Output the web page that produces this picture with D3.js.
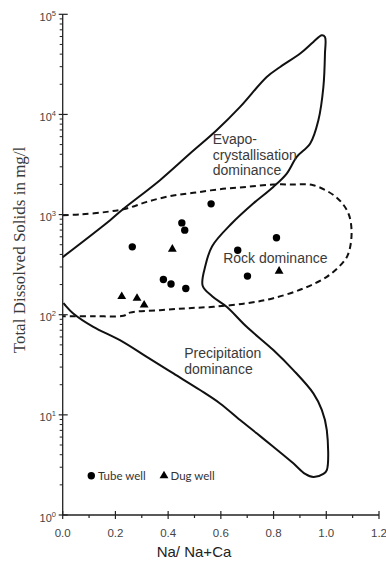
<!DOCTYPE html>
<html>
<head>
<meta charset="utf-8">
<script src="https://cdn.jsdelivr.net/npm/d3@7"></script>
<style>
  html, body { margin: 0; padding: 0; background: #fff; }
  svg { display: block; }
</style>
</head>
<body>
<svg id="chart" width="386" height="562"></svg>
<script>
// Gibbs plot: Na/(Na+Ca) against total dissolved solids (log scale)

// Samples
const tubeWellRatio = [0.563, 0.452, 0.463, 0.264, 0.382, 0.411, 0.467, 0.811, 0.664, 0.701];
const tubeWellTDS   = [1280, 826, 699, 476, 225, 203, 183, 586, 441, 243];
const dugWellRatio  = [0.416, 0.224, 0.282, 0.309, 0.821];
const dugWellTDS    = [451, 152, 146, 125, 272];

// Axis ticks
const ratioTicks = [0, 0.2, 0.4, 0.6, 0.8, 1.0, 1.2];
const ratioMinorTicks = [0.1, 0.3, 0.5, 0.7, 0.9, 1.1];
const tdsExponents = [0, 1, 2, 3, 4, 5];

// Outer Gibbs boundary (evaporation / precipitation envelope), [ratio, TDS]
const gibbsBoundary = [
  [0.000, 376], [0.180, 879], [0.224, 1106], [0.369, 2205], [0.483, 4070],
  [0.584, 6950], [0.673, 11890], [0.774, 23680], [0.825, 29800], [0.901, 40560],
  [0.951, 52970], [0.983, 61700], [0.995, 59300], [0.995, 40560], [0.989, 18800],
  [0.970, 8750], [0.939, 5130], [0.888, 3770], [0.850, 2570], [0.799, 1890],
  [0.723, 1291], [0.641, 815], [0.567, 484], [0.542, 313], [0.531, 195],
  [0.567, 153], [0.622, 120], [0.698, 75.7], [0.799, 44.4], [0.875, 28.0],
  [0.951, 16.4], [0.983, 11.2], [1.002, 7.05], [1.002, 2.81], [0.989, 2.57],
  [0.951, 2.39], [0.920, 2.57], [0.875, 3.28], [0.799, 4.80], [0.736, 6.54],
  [0.673, 8.87], [0.597, 13.0], [0.521, 17.7], [0.420, 25.9], [0.319, 38.0],
  [0.217, 55.8], [0.116, 75.7], [0.040, 103], [0.009, 125], [0.003, 131]
];

// Rock dominance field (dashed), [ratio, TDS]
const rockField = [
  [0.000, 986], [0.066, 1002], [0.167, 1064], [0.243, 1151], [0.319, 1340],
  [0.407, 1528], [0.496, 1648], [0.597, 1794], [0.698, 1890], [0.799, 1996],
  [0.875, 1996], [0.951, 1964], [1.040, 1474], [1.084, 1025], [1.096, 648],
  [1.084, 409], [1.065, 337], [1.002, 239], [0.913, 183], [0.799, 146],
  [0.698, 130], [0.572, 120], [0.471, 116], [0.369, 111], [0.255, 105],
  [0.230, 97.5], [0.116, 96.8], [0.000, 96.8]
];

const svg = d3.select("#chart");

const x = d3.scaleLinear().domain([0, 1.2]).range([62.7, 379]);
const y = d3.scaleLog().domain([1, 1e5]).range([515, 14.3]);

const axisColor = "#222";
const labelColor = "#3a3a3a";

// ---- curves
const line = d3.line()
  .x(d => x(d[0]))
  .y(d => y(d[1]))
  .curve(d3.curveCatmullRom.alpha(0.5));

svg.append("path")
  .attr("d", line(gibbsBoundary))
  .attr("fill", "none")
  .attr("stroke", "#111")
  .attr("stroke-width", 2)
  .attr("stroke-linejoin", "round");

svg.append("path")
  .attr("d", line(rockField))
  .attr("fill", "none")
  .attr("stroke", "#111")
  .attr("stroke-width", 2)
  .attr("stroke-dasharray", "6,4");

// ---- axes
const gx = svg.append("g");
gx.append("line")
  .attr("x1", x(0)).attr("x2", x(1.2))
  .attr("y1", y(1)).attr("y2", y(1))
  .attr("stroke", axisColor).attr("stroke-width", 1.3);
gx.selectAll(".xmaj").data(ratioTicks).join("line")
  .attr("x1", d => x(d)).attr("x2", d => x(d))
  .attr("y1", y(1) - 4).attr("y2", y(1) + 4)
  .attr("stroke", axisColor).attr("stroke-width", 1.2);
gx.selectAll(".xmin").data(ratioMinorTicks).join("line")
  .attr("x1", d => x(d)).attr("x2", d => x(d))
  .attr("y1", y(1)).attr("y2", y(1) + 3)
  .attr("stroke", axisColor).attr("stroke-width", 1.2);
gx.selectAll(".xlab").data(ratioTicks).join("text")
  .attr("x", d => x(d)).attr("y", 537)
  .attr("text-anchor", "middle")
  .attr("font-family", "Liberation Sans, Arial, sans-serif")
  .attr("font-size", 11.5)
  .attr("fill", "#444")
  .text(d => d.toFixed(1));

const gy = svg.append("g");
gy.append("line")
  .attr("x1", x(0)).attr("x2", x(0))
  .attr("y1", y(1e5)).attr("y2", y(1))
  .attr("stroke", axisColor).attr("stroke-width", 1.3);
gy.selectAll(".ymaj").data(tdsExponents).join("line")
  .attr("x1", x(0) - 4).attr("x2", x(0) + 5)
  .attr("y1", d => y(Math.pow(10, d))).attr("y2", d => y(Math.pow(10, d)))
  .attr("stroke", axisColor).attr("stroke-width", 1.2);
const minorValues = [];
tdsExponents.slice(0, -1).forEach(e => {
  for (let m = 2; m <= 9; m++) minorValues.push(m * Math.pow(10, e));
});
gy.selectAll(".ymin").data(minorValues).join("line")
  .attr("x1", x(0) - 3).attr("x2", x(0))
  .attr("y1", d => y(d)).attr("y2", d => y(d))
  .attr("stroke", axisColor).attr("stroke-width", 1);
const ylab = gy.selectAll(".ylab").data(tdsExponents).join("text")
  .attr("x", 56)
  .attr("y", d => y(Math.pow(10, d)) + 6.5)
  .attr("text-anchor", "end")
  .attr("font-family", "Liberation Sans, Arial, sans-serif")
  .attr("fill", "#444");
ylab.append("tspan").attr("font-size", 11).text("10");
ylab.append("tspan").attr("font-size", 7.5).attr("dy", -5).text(d => d);

// ---- axis titles
svg.append("text")
  .attr("x", 194).attr("y", 556.5)
  .attr("text-anchor", "middle")
  .attr("font-family", "Liberation Sans, Arial, sans-serif")
  .attr("font-size", 15)
  .attr("fill", "#222")
  .text("Na/ Na+Ca");

svg.append("text")
  .attr("transform", "translate(25,250) rotate(-90)")
  .attr("text-anchor", "middle")
  .attr("font-family", "Liberation Serif, 'Times New Roman', serif")
  .attr("font-size", 17)
  .attr("fill", "#3a3a3a")
  .text("Total Dissolved Solids in mg/l");

// ---- field labels
const fieldLabels = [
  { lines: ["Evapo-", "crystallisation", "dominance"], ratio: 0.569, tds: 5040 },
  { lines: ["Rock dominance"], ratio: 0.609, tds: 325 },
  { lines: ["Precipitation", "dominance"], ratio: 0.461, tds: 36.6 }
];
fieldLabels.forEach(f => {
  const t = svg.append("text")
    .attr("font-family", "Liberation Sans, Arial, sans-serif")
    .attr("font-size", 14)
    .attr("fill", labelColor);
  f.lines.forEach((s, i) => {
    t.append("tspan")
      .attr("x", x(f.ratio))
      .attr("y", y(f.tds) + i * 15.6)
      .text(s);
  });
});

// ---- samples
svg.append("g").selectAll("circle").data(tubeWellRatio).join("circle")
  .attr("cx", (d, i) => x(d))
  .attr("cy", (d, i) => y(tubeWellTDS[i]))
  .attr("r", 3.7)
  .attr("fill", "#000");

const tri = d3.symbol().type(d3.symbolTriangle).size(34);
svg.append("g").selectAll("path").data(dugWellRatio).join("path")
  .attr("d", tri)
  .attr("transform", (d, i) => `translate(${x(d)},${y(dugWellTDS[i])})`)
  .attr("fill", "#000");

// ---- legend
const lg = svg.append("g");
lg.append("circle").attr("cx", 91.3).attr("cy", 475.7).attr("r", 3.7).attr("fill", "#000");
lg.append("text").attr("x", 98).attr("y", 479.5)
  .attr("font-family", "Lato, 'Open Sans', sans-serif").attr("font-size", 11.5)
  .attr("fill", "#333").text("Tube well");
lg.append("path").attr("d", tri).attr("transform", "translate(164,475.8)").attr("fill", "#000");
lg.append("text").attr("x", 170.5).attr("y", 479.5)
  .attr("font-family", "Lato, 'Open Sans', sans-serif").attr("font-size", 11.5)
  .attr("fill", "#333").text("Dug well");
</script>
</body>
</html>
